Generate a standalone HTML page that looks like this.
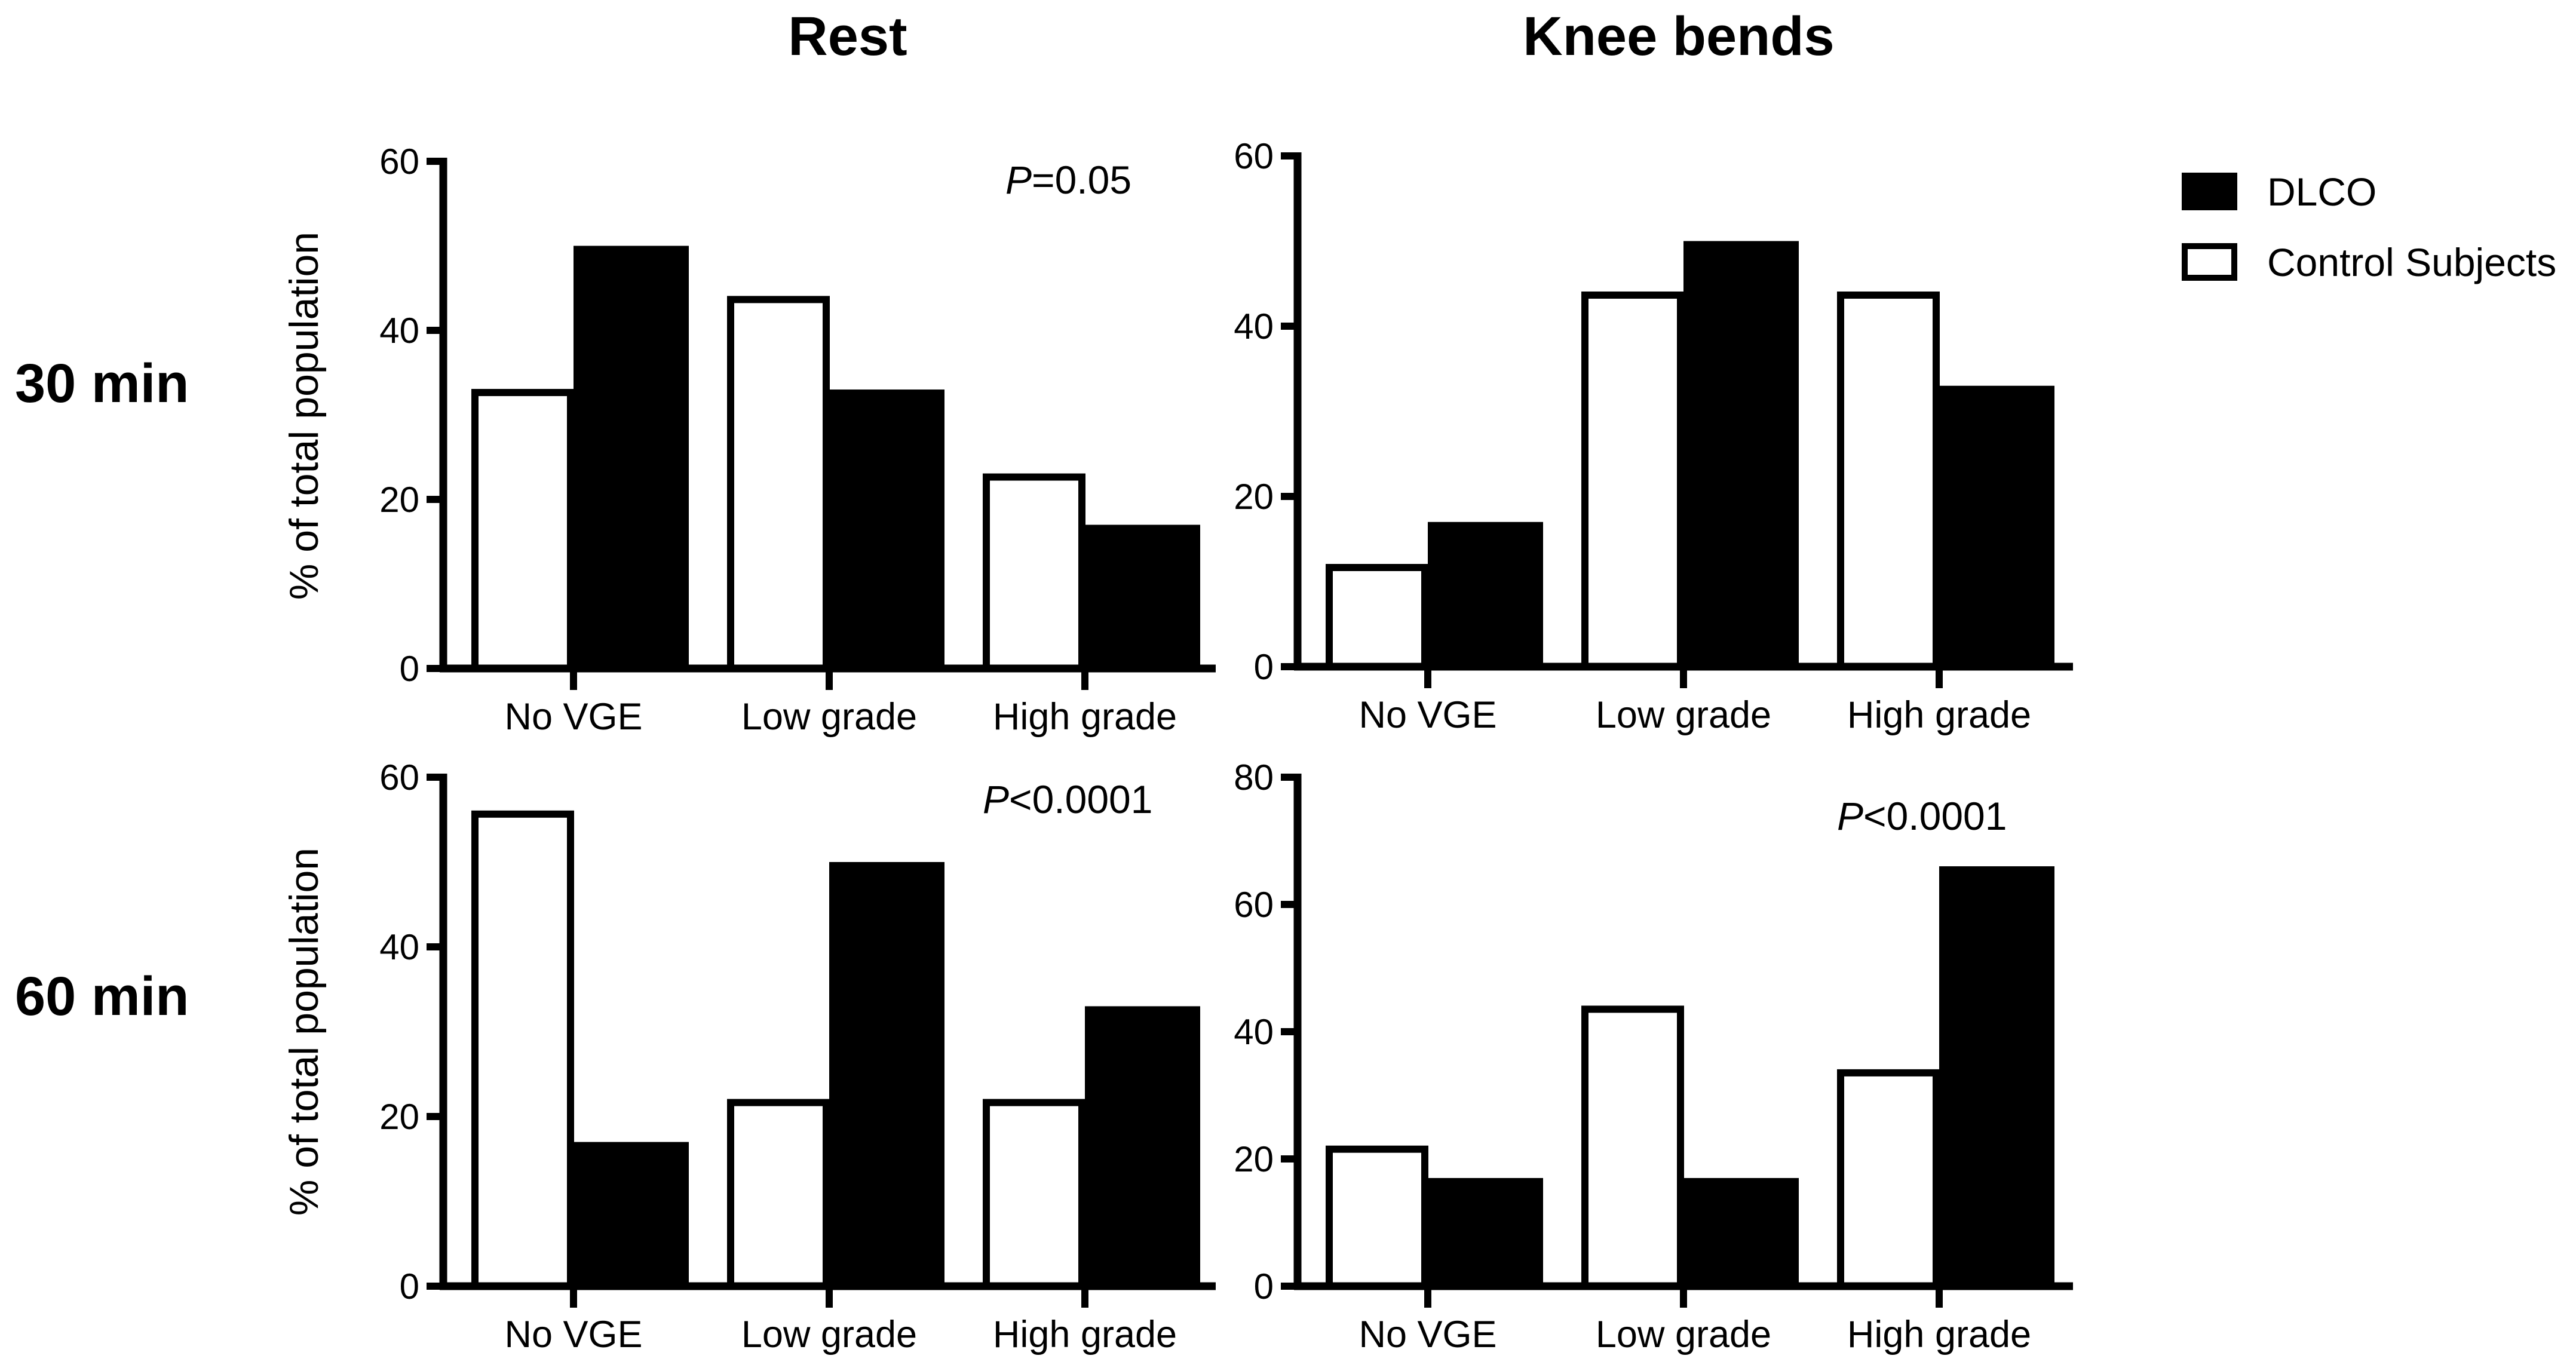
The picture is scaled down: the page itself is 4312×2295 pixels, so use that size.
<!DOCTYPE html>
<html><head><meta charset="utf-8"><style>
html,body{margin:0;padding:0;background:#fff;}
svg{display:block;font-family:"Liberation Sans",Arial,sans-serif;}
</style></head><body>
<svg id="chart" width="4312" height="2295" viewBox="0 0 4312 2295" xmlns="http://www.w3.org/2000/svg">
<text x="1419" y="92" font-size="92" font-weight="bold" text-anchor="middle">Rest</text>
<text x="2810" y="92" font-size="92" font-weight="bold" text-anchor="middle">Knee bends</text>
<text x="25" y="673" font-size="92" font-weight="bold">30 min</text>
<text x="25" y="1699" font-size="92" font-weight="bold">60 min</text>
<rect x="3652" y="289" width="93" height="63" fill="#000"/>
<text x="3795" y="344" font-size="66">DLCO</text>
<rect x="3657" y="412" width="83" height="53" fill="#fff" stroke="#000" stroke-width="10"/>
<text x="3795" y="462" font-size="66">Control Subjects</text>
<g id="plots"></g>
</svg>
<script>
const categories = ["No VGE", "Low grade", "High grade"];
const restControl30 = [33, 44, 23];
const restDlco30 = [50, 33, 17];
const kneeControl30 = [12, 44, 44];
const kneeDlco30 = [17, 50, 33];
const restControl60 = [56, 22, 22];
const restDlco60 = [17, 50, 33];
const kneeControl60 = [22, 44, 34];
const kneeDlco60 = [17, 17, 66];
const ticks60 = [0, 20, 40, 60];
const ticks80 = [0, 20, 40, 60, 80];
const pLabels = ["=0.05", "", "<0.0001", "<0.0001"];

const NS = "http://www.w3.org/2000/svg";
const root = document.getElementById("plots");
function mk(tag, attrs, parent){
  const e = document.createElementNS(NS, tag);
  for (const k in attrs) e.setAttribute(k, attrs[k]);
  (parent||root).appendChild(e);
  return e;
}
const panels = [
  {id:"rest-30", ax:742, ay0:1119, ayTop:270, xEnd:2035, max:60, ticks:ticks60, ctrl:restControl30, dl:restDlco30, p:0, px:1683, py:324, ytitle:696},
  {id:"knee-30", ax:2172, ay0:1116, ayTop:261, xEnd:3470, max:60, ticks:ticks60, ctrl:kneeControl30, dl:kneeDlco30, p:1},
  {id:"rest-60", ax:742, ay0:2153, ayTop:1301, xEnd:2035, max:60, ticks:ticks60, ctrl:restControl60, dl:restDlco60, p:2, px:1645, py:1361, ytitle:1727},
  {id:"knee-60", ax:2172, ay0:2153, ayTop:1301, xEnd:3470, max:80, ticks:ticks80, ctrl:kneeControl60, dl:kneeDlco60, p:3, px:3075, py:1389}
];
panels.forEach(P=>{
  const g = mk("g", {});
  
  
  const yS = v => P.ay0 - (v / P.max) * (P.ay0 - P.ayTop);
  const xC = i => P.ax + 218 + i * 428;
  categories.forEach((c, i) => {
    const cx = xC(i);
    const ob = mk("rect", {x: cx - 165, y: yS(P.ctrl[i]) + 5, width: 160, height: P.ay0 - yS(P.ctrl[i]) - 5, fill:"#fff", stroke:"#000", "stroke-width":12}, g);
    
    
    const fb = mk("rect", {x: cx, y: yS(P.dl[i]), width: 193, height: P.ay0 - yS(P.dl[i]), fill:"#000"}, g);
    
    
    const tk = mk("line", {x1:cx, x2:cx, y1:P.ay0, y2:P.ay0 + 36, stroke:"#000", "stroke-width":12}, g);
    
    
    const tl = mk("text", {x:cx, y:P.ay0 + 102, "font-size":63, "text-anchor":"middle"}, g);
    tl.textContent = c;
    
    
  });
  const ya = mk("line", {x1:P.ax, x2:P.ax, y1:P.ayTop - 6, y2:P.ay0 + 6, stroke:"#000", "stroke-width":13}, g);
  
  
  const xa = mk("line", {x1:P.ax - 6, x2:P.xEnd, y1:P.ay0, y2:P.ay0, stroke:"#000", "stroke-width":13}, g);
  
  
  P.ticks.forEach(t => {
    const y = yS(t);
    const l = mk("line", {x1:P.ax - 28, x2:P.ax, y1:y, y2:y, stroke:"#000", "stroke-width":12}, g);
    
    
    const tx = mk("text", {x:P.ax - 40, y:y + 21, "font-size":60, "text-anchor":"end"}, g);
    tx.textContent = t;
    
    
  });
  if (P.ytitle) {
    const yt = mk("text", {x:0, y:0, "font-size":68, "text-anchor":"middle", transform:"translate(532," + P.ytitle + ") rotate(-90)"}, g);
    yt.textContent = "% of total population";
    
    
  }
  if (pLabels[P.p]) {
    const pt = mk("text", {x:P.px, y:P.py, "font-size":66}, g);
    const ti = mk("tspan", {"font-style":"italic"}, pt);
    ti.textContent = "P";
    const tr = mk("tspan", {}, pt);
    tr.textContent = pLabels[P.p];
    
    
  }
});
</script>
</body></html>
